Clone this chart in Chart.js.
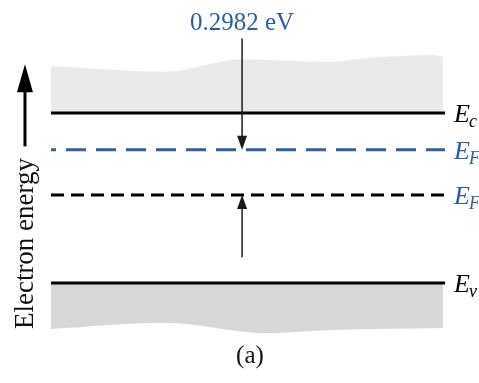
<!DOCTYPE html>
<html>
<head>
<meta charset="utf-8">
<script src="https://cdn.jsdelivr.net/npm/chart.js@4.4.1/dist/chart.umd.min.js"></script>
<style>
  html, body { margin: 0; padding: 0; background: #fff; }
  #wrap { width: 479px; height: 383px; }
</style>
</head>
<body>
<div id="wrap"><canvas id="chart" width="479" height="383"></canvas></div>
<script>
// energy levels in eV, measured from Ev
const levelSubs = ['c', 'F', 'Fi', 'v'];
const levelEnergy = [1.12, 0.878, 0.58, 0];
const levelColors = ['#000000', '#2b5f9f', '#000000', '#000000'];
const labelColors = ['#000000', '#2b5f9f', '#2b5f9f', '#000000'];
const levelDash = [[], [20, 10], [13, 7], []];
const levelDashOffset = [0, 15, 0, 0];
const bandStart = 0;
const bandEnd = 10;

// wavy outer edges of the conduction and valence bands
const condEdgeX = [0, 2.89, 4.85, 7.08, 8.02, 9.7, 9.95];
const condEdgeE = [1.43, 1.392, 1.474, 1.456, 1.482, 1.502, 1.49];
const valEdgeX = [0, 2.89, 5.48, 7.16, 9.95];
const valEdgeE = [-0.303, -0.262, -0.331, -0.31, -0.296];

const gapLabel = '0.2982 eV';
const arrowX = 4.85;
const arrowTopFrom = 1.61;
const arrowBottomFrom = 0.17;
const axisTitle = 'Electron energy';
const panelLabel = '(a)';

const blue = '#2b5f9f';
const serif = '"Liberation Serif", "Times New Roman", serif';

function arrow(ctx, x0, y0, x1, y1, width, headLen, headHalf) {
    const dir = Math.sign(y1 - y0);
    ctx.lineWidth = width;
    ctx.beginPath();
    ctx.moveTo(x0, y0);
    ctx.lineTo(x1, y1 - dir * headLen * 0.8);
    ctx.stroke();
    ctx.beginPath();
    ctx.moveTo(x1, y1);
    ctx.lineTo(x1 - headHalf, y1 - dir * headLen);
    ctx.lineTo(x1 + headHalf, y1 - dir * headLen);
    ctx.closePath();
    ctx.fill();
}

const annotate = {
    id: 'annotate',
    afterDatasetsDraw(chart) {
        const { ctx, scales: { x, y } } = chart;
        ctx.save();
        ctx.strokeStyle = '#1a1a1a';
        ctx.fillStyle = '#1a1a1a';
        const ax = x.getPixelForValue(arrowX);
        arrow(ctx, ax, y.getPixelForValue(arrowTopFrom), ax, y.getPixelForValue(levelEnergy[1]), 1.5, 14, 5);
        arrow(ctx, ax, y.getPixelForValue(arrowBottomFrom), ax, y.getPixelForValue(levelEnergy[2]), 1.5, 14, 5);

        // energy axis arrow on the left
        ctx.strokeStyle = '#000';
        ctx.fillStyle = '#000';
        const lx = x.getPixelForValue(-0.66);
        arrow(ctx, lx, y.getPixelForValue(0.9), lx, y.getPixelForValue(1.44), 3, 28, 8);

        ctx.save();
        ctx.translate(x.getPixelForValue(-0.64), y.getPixelForValue(0.26));
        ctx.rotate(-Math.PI / 2);
        ctx.font = '27px ' + serif;
        ctx.textAlign = 'center';
        ctx.textBaseline = 'middle';
        ctx.fillStyle = '#111';
        ctx.fillText(axisTitle, 0, 0);
        ctx.restore();

        ctx.font = '25px ' + serif;
        ctx.textAlign = 'center';
        ctx.textBaseline = 'alphabetic';
        ctx.fillStyle = blue;
        ctx.fillText(gapLabel, ax, y.getPixelForValue(1.667));

        ctx.font = '25px ' + serif;
        ctx.fillStyle = '#111';
        ctx.fillText(panelLabel, x.getPixelForValue(5.05), y.getPixelForValue(-0.53));

        // level labels on the right
        ctx.textAlign = 'left';
        levelEnergy.forEach((e, i) => {
            const px = x.getPixelForValue(10.23);
            const py = y.getPixelForValue(e) + 9;
            ctx.fillStyle = labelColors[i];
            ctx.font = 'italic 26px ' + serif;
            ctx.fillText('E', px, py);
            const w = ctx.measureText('E').width;
            ctx.font = 'italic 18px ' + serif;
            ctx.fillText(levelSubs[i], px + w - 1, py + 5);
        });
        ctx.restore();
    }
};

const datasets = levelEnergy.map((e, i) => ({
    data: [{ x: bandStart, y: e }, { x: bandEnd, y: e }],
    showLine: true,
    borderColor: levelColors[i],
    borderWidth: 3,
    borderDash: levelDash[i],
    borderDashOffset: levelDashOffset[i],
    pointRadius: 0,
    fill: false,
    order: 1
}));

datasets.push({
    data: condEdgeX.map((v, i) => ({ x: v, y: condEdgeE[i] })),
    showLine: true,
    cubicInterpolationMode: 'monotone',
    borderColor: 'rgba(0,0,0,0)',
    borderWidth: 0,
    backgroundColor: '#eaeaea',
    pointRadius: 0,
    fill: { value: levelEnergy[0] },
    order: 5
});
datasets.push({
    data: valEdgeX.map((v, i) => ({ x: v, y: valEdgeE[i] })),
    showLine: true,
    cubicInterpolationMode: 'monotone',
    borderColor: 'rgba(0,0,0,0)',
    borderWidth: 0,
    backgroundColor: '#d7d7d7',
    pointRadius: 0,
    fill: { value: levelEnergy[3] },
    order: 5
});

new Chart(document.getElementById('chart'), {
    type: 'scatter',
    data: { datasets: datasets },
    options: {
        responsive: false,
        animation: false,
        layout: { padding: 0 },
        scales: {
            x: { type: 'linear', min: -1.294, max: 10.863, display: false },
            y: { type: 'linear', min: -0.659, max: 1.864, display: false }
        },
        plugins: {
            legend: { display: false },
            tooltip: { enabled: false }
        }
    },
    plugins: [annotate]
});
</script>
</body>
</html>
